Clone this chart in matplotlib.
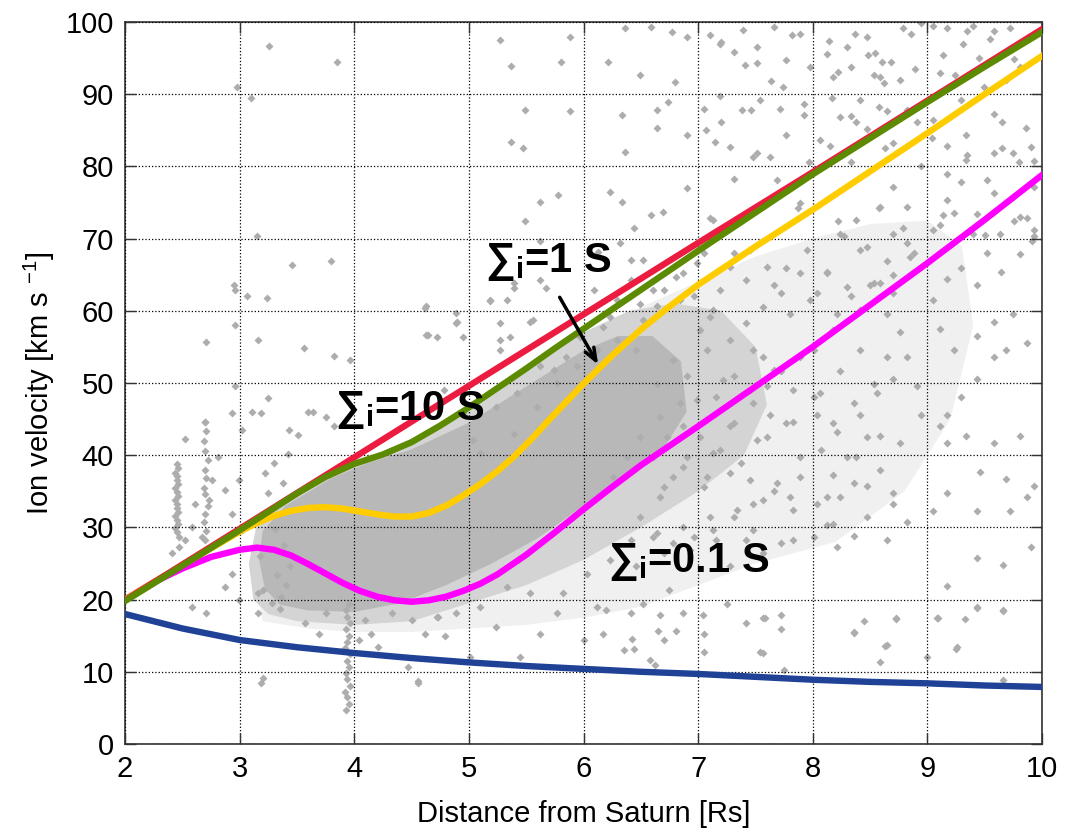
import matplotlib
matplotlib.use('Agg')
import matplotlib.pyplot as plt

plt.rcParams['font.family'] = ['Liberation Sans', 'DejaVu Sans']
plt.rcParams['mathtext.fontset'] = 'custom'
plt.rcParams['mathtext.rm'] = 'Liberation Sans'
plt.rcParams['mathtext.bf'] = 'Liberation Sans:bold'
plt.rcParams['mathtext.it'] = 'Liberation Sans:italic'

# model curves (distance in Rs, velocity in km/s)
r_red = [2, 3, 4, 5, 6, 7, 8, 9, 10]
v_red = [19.9, 29.8, 39.7, 49.6, 59.5, 69.4, 79.2, 89.1, 99.0]

r_green = [2, 2.5, 3, 3.5, 3.75, 4, 4.25, 4.5, 4.75, 5, 5.25, 5.5, 5.75, 6,
           6.5, 7, 7.5, 8, 8.5, 9, 9.5, 10]
v_green = [19.8, 24.7, 29.6, 34.7, 37.0, 38.8, 40.1, 41.8, 44.1, 46.6, 49.3,
           52.0, 54.8, 57.5, 62.9, 68.3, 73.6, 78.9, 83.9, 88.9, 93.8, 98.6]

r_yellow = [2, 2.5, 3, 3.15, 3.3, 3.45, 3.6, 3.75, 3.9, 4.05, 4.2, 4.35, 4.5,
            4.65, 4.8, 4.95, 5.1, 5.25, 5.4, 5.55, 5.7, 5.85, 6, 6.25, 6.5,
            6.75, 7, 7.5, 8, 8.5, 9, 9.5, 10]
v_yellow = [20.0, 24.8, 29.4, 30.6, 31.6, 32.3, 32.7, 32.8, 32.6, 32.2, 31.8,
            31.5, 31.5, 32.0, 33.0, 34.4, 36.0, 37.8, 39.9, 42.3, 44.9, 47.4,
            49.9, 53.8, 57.4, 60.6, 63.6, 68.9, 74.0, 79.3, 84.6, 90.0, 95.3]

r_magenta = [2, 2.25, 2.5, 2.75, 3, 3.15, 3.3, 3.45, 3.6, 3.75, 3.9, 4.05,
             4.2, 4.35, 4.5, 4.65, 4.8, 4.95, 5.1, 5.25, 5.5, 5.75, 6, 6.25,
             6.5, 7, 7.5, 8, 8.5, 9, 9.5, 10]
v_magenta = [20.0, 22.4, 24.3, 25.9, 26.9, 27.2, 26.9, 26.1, 24.9, 23.6, 22.3,
             21.2, 20.4, 19.9, 19.7, 19.9, 20.4, 21.2, 22.2, 23.5, 26.2, 29.3,
             32.5, 35.6, 38.6, 44.0, 49.5, 55.0, 60.8, 66.6, 72.6, 78.8]

r_blue = [2, 2.5, 3, 3.5, 4, 4.5, 5, 5.5, 6, 6.5, 7, 7.5, 8, 8.5, 9, 9.5, 10]
v_blue = [18.0, 16.0, 14.4, 13.4, 12.6, 11.9, 11.3, 10.8, 10.4, 10.0, 9.7,
          9.3, 8.9, 8.6, 8.4, 8.1, 7.9]

# outlines of the measured cloud: sparse halo, medium band, dense core
halo_r = [3.1, 3.3, 3.6, 4.0, 4.5, 5.0, 5.5, 6.0, 6.5, 7.0, 7.5, 8.0, 8.5,
          9.0, 9.3, 9.4, 9.2, 8.8, 8.2, 7.5, 7.0, 6.5, 6.0, 5.5, 5.0, 4.5,
          4.0, 3.6, 3.2]
halo_v = [26.0, 33.0, 35.5, 38.5, 41.0, 45.0, 50.5, 56.0, 60.5, 64.0, 67.5,
          70.0, 72.0, 72.5, 69.0, 58.0, 45.0, 35.0, 28.0, 25.0, 22.0, 19.0,
          17.5, 16.5, 16.0, 15.5, 15.5, 16.0, 17.0]

mid_r = [3.12, 3.08, 3.15, 3.4, 3.8, 4.1, 4.5, 5.0, 5.5, 6.0, 6.4, 6.8, 7.2,
         7.5, 7.6, 7.4, 7.0, 6.5, 6.0, 5.5, 5.0, 4.5, 4.0, 3.5, 3.25]
mid_v = [20.0, 25.0, 30.5, 34.0, 37.5, 39.5, 42.0, 46.0, 51.5, 57.0, 60.0,
         61.0, 60.0, 55.0, 47.0, 40.0, 35.0, 30.0, 25.5, 22.0, 19.5, 17.0,
         16.5, 17.0, 18.0]

core_r = [3.22, 3.17, 3.2, 3.4, 3.8, 4.1, 4.5, 5.0, 5.5, 6.0, 6.3, 6.6, 6.85,
          6.9, 6.7, 6.4, 6.0, 5.6, 5.2, 4.8, 4.4, 4.0, 3.6, 3.35]
core_v = [21.5, 25.5, 29.5, 33.0, 36.8, 38.8, 40.8, 44.5, 49.5, 54.5, 56.5,
          56.5, 53.0, 46.0, 41.0, 37.5, 33.0, 28.5, 25.0, 22.0, 19.5, 18.3,
          18.5, 19.3]

# individual measurements outside the dense core
obs_r = [
    2.45, 2.44, 2.46, 2.45, 2.44, 2.46, 2.45, 2.45, 2.44, 2.46, 2.45, 2.44,
    2.46, 2.45, 2.45, 2.44, 2.46, 2.45,
    2.70, 2.71, 2.69, 2.70, 2.72, 2.70, 2.69, 2.71, 2.70, 2.72, 2.70, 2.69,
    2.71, 2.70,
    3.93, 3.95, 3.94, 3.92, 3.96, 3.94, 3.93, 3.95, 3.94, 3.96, 3.92, 3.94,
    3.95, 3.93, 3.96, 3.94, 3.93, 3.95,
    3.26, 3.85, 2.98, 3.10, 3.15, 3.46, 3.80, 2.95, 2.96, 3.06, 3.24, 2.71,
    2.96, 3.16, 4.64, 4.90, 4.63, 3.82, 3.96, 3.56, 3.64, 3.82, 4.62, 4.63,
    5.18, 5.27, 5.36, 5.56, 6.09, 4.89, 4.95, 5.27, 5.39, 6.32, 6.41,
    5.27, 5.88, 6.36, 6.59, 6.77, 6.90, 7.20, 7.66, 7.51, 7.82, 8.12, 8.48,
    8.79, 8.94, 9.35, 9.55, 5.37, 5.80, 6.21, 6.49, 6.80, 7.41, 7.77, 8.22,
    8.53, 8.68, 8.89, 9.14, 9.24, 9.76, 5.49, 5.88, 6.34, 6.64, 6.74, 7.05,
    7.20, 7.46, 7.71, 7.92, 8.17, 8.38, 8.58, 9.65, 9.86, 5.37, 5.47, 6.36,
    6.64, 6.90, 7.15, 7.51, 7.77, 7.97, 8.33, 8.63, 9.04, 9.35, 9.65, 9.80,
    5.62, 5.78, 6.23, 6.34, 6.59, 6.90, 7.10, 7.31, 7.87, 8.22, 8.58, 8.79,
    9.14, 9.50, 9.76, 9.91, 5.49, 5.62, 6.44, 6.69, 5.67, 5.39, 6.13,
    7.10, 7.39, 7.19, 7.31, 7.51, 7.64, 7.89, 8.14, 8.30, 8.37, 8.47, 8.54,
    8.60, 8.86, 9.05, 9.17, 9.31, 9.40, 9.45, 9.58, 9.72, 9.11, 8.76, 8.59,
    8.33, 8.18, 7.98, 7.74, 7.54, 7.38, 7.19, 7.07, 7.28, 7.48, 7.69, 7.89,
    8.06, 8.24, 8.41, 8.62, 8.82, 9.05, 9.29, 9.49, 9.69, 9.81, 9.90, 9.93,
    9.75, 9.58, 9.34, 9.52, 9.17, 8.94, 8.70, 8.82, 8.59, 8.38, 8.24, 8.47,
    8.70, 8.88, 9.05, 9.23, 9.40, 9.52, 9.63, 9.81, 9.93, 8.12, 8.30, 8.53,
    8.70, 8.04, 7.89, 7.72, 7.60, 7.42, 7.19, 7.31, 7.13,
    7.92, 8.15, 8.33, 8.47, 8.65, 8.70, 8.91, 9.17, 9.34, 9.58, 9.75, 9.93,
    7.63, 9.29, 9.17, 9.58, 9.87, 9.43, 9.11, 8.82, 8.65, 8.41, 8.27, 8.12,
    7.95, 7.77, 7.66, 7.57, 7.80, 7.98, 8.21, 8.33, 8.50, 8.70, 8.85, 8.65,
    8.76, 8.41, 8.24, 8.06, 7.89, 7.72, 7.60, 7.63, 7.83, 8.04, 8.21, 8.41,
    8.56, 8.70, 8.82, 8.91, 8.94, 8.76, 8.59, 8.38, 8.18, 7.89, 7.69, 7.80,
    8.04, 8.24, 8.47, 8.70, 9.11, 9.17, 9.29, 9.43, 9.58, 9.69, 9.87, 9.75,
    9.58, 9.43, 9.23, 9.11, 9.05, 9.17, 9.29, 9.43, 9.64, 9.81, 9.93, 9.17,
    9.34, 9.58, 9.81, 9.93, 9.69, 9.46, 9.17, 9.05, 9.43, 9.72, 9.87, 8.82,
    8.12, 7.83, 8.21, 8.36, 8.65, 9.17, 9.43, 9.66, 9.90, 7.72, 8.36, 8.73,
    9.08, 9.43, 9.66, 9.26, 8.65, 7.57,
    4.89, 5.18, 5.33, 5.53, 5.62, 4.72, 5.27, 4.78, 6.29, 6.41, 6.52, 6.70,
    6.87, 7.05, 7.28, 7.45, 7.10, 7.28, 7.42, 7.57, 7.22, 7.45, 6.99, 6.87,
    7.28, 7.51, 7.13, 6.87, 6.70, 7.05, 7.28, 7.45, 7.57, 7.34, 7.10, 6.87,
    6.64, 6.41, 6.23, 6.03, 5.82, 6.46, 6.70, 6.93, 7.16, 7.42, 7.57, 7.28,
    6.75, 6.41, 6.12, 5.77, 5.53, 5.33, 5.10, 4.89, 4.72, 5.24, 5.62, 6.00,
    6.35, 6.70, 7.05, 7.42, 6.58, 7.57, 5.45, 5.01,
    5.39, 5.59, 5.77, 5.94, 6.12, 6.29, 6.17, 6.52, 6.64, 6.84, 6.46, 5.10,
    4.95, 5.24, 5.42, 5.62, 5.04,
    2.52, 2.70, 2.96, 2.93, 3.11, 3.19, 3.25, 3.60, 3.43, 3.51, 3.75, 3.02,
    2.81, 2.76, 2.73, 2.58, 2.61, 2.67, 2.87, 2.93, 3.02, 2.99, 2.52, 2.41,
    2.47, 2.93, 2.87, 2.99, 3.16, 3.16, 3.19, 3.57, 3.75, 3.69, 4.09, 4.15,
    4.04, 4.21, 4.33, 4.50, 4.62, 4.56, 4.73, 4.79, 4.47, 2.58, 2.71, 2.47,
    6.20, 6.52, 6.67, 6.87, 6.17, 6.42, 6.44, 6.65, 6.81, 6.62, 7.04, 7.05,
    7.25, 7.54, 7.58, 7.72, 7.75, 8.36, 8.45, 8.63, 8.59, 8.73, 9.00, 9.09,
    9.25, 9.33, 9.43, 9.66, 9.66, 3.20, 4.56,
    7.08, 7.31, 7.16, 7.48, 7.66, 7.83, 8.01, 8.18, 8.41, 8.59, 7.02, 6.90,
    6.78, 6.67, 6.49, 7.31, 7.48, 7.19, 7.08, 7.37, 7.60, 7.77, 8.01, 8.18,
    8.36, 8.53, 8.65, 8.47, 8.30, 8.07, 7.89, 7.66, 7.48, 7.31, 7.13, 6.96,
    6.78, 6.61, 7.83, 8.12, 8.36, 8.59, 8.70, 8.47, 8.18, 8.01, 7.72, 7.48,
    6.49, 6.38, 6.26, 6.61, 6.67, 6.84, 6.90, 6.78, 7.02, 7.13, 6.96, 6.64,
    6.73, 5.97, 5.85, 5.74, 6.23, 6.49, 6.61, 6.81, 6.99,
    3.22, 3.30, 3.38, 3.42, 3.28, 3.35, 3.20, 3.33, 3.40, 3.25, 3.18, 3.36,
    3.44, 3.31, 3.23, 3.39,
]
obs_v = [
    29.3, 29.9, 30.5, 31.0, 31.6, 32.1, 32.7, 33.2, 33.8, 34.3, 34.9, 35.4,
    36.0, 36.5, 37.1, 37.6, 38.2, 38.8,
    28.3, 29.5, 30.8, 31.9, 33.0, 34.6, 35.5, 36.8, 37.9, 39.4, 40.6, 42.0,
    43.3, 44.6,
    4.7, 5.6, 6.5, 7.2, 8.1, 9.0, 9.8, 10.7, 11.5, 12.4, 13.3, 14.1,
    15.0, 15.9, 16.8, 17.6, 18.5, 19.4,
    96.7, 94.5, 91.0, 89.4, 70.4, 66.3, 66.9, 63.6, 62.9, 62.0, 61.8, 55.7,
    58.0, 55.9, 56.7, 58.4, 60.6, 53.7, 53.2, 54.8, 46.0, 44.0, 60.4, 56.7,
    61.3, 58.3, 56.4, 58.7, 62.9, 59.7, 56.4, 54.6, 63.1, 69.4, 67.0,
    97.5, 97.9, 99.1, 99.3, 98.6, 97.9, 97.2, 99.3, 96.5, 98.2, 95.6, 95.4,
    99.1, 99.8, 98.8, 97.7, 93.9, 94.5, 94.4, 92.6, 91.7, 94.0, 94.7, 93.1,
    92.6, 94.5, 93.5, 95.4, 92.6, 94.9, 87.8, 87.6, 87.1, 87.8, 88.9, 88.0,
    86.2, 87.8, 88.0, 87.1, 89.4, 86.2, 88.2, 86.2, 85.3, 83.4, 82.6, 82.0,
    85.3, 84.3, 83.4, 81.8, 84.3, 80.6, 80.6, 82.5, 83.9, 81.6, 82.5, 80.6,
    75.1, 76.0, 76.5, 75.1, 73.3, 77.0, 72.8, 78.3, 74.2, 72.4, 74.2, 71.4,
    73.3, 70.5, 72.4, 69.6, 72.4, 69.6, 71.4, 73.7, 63.1, 63.8, 68.2,
    98.2, 98.9, 97.0, 95.9, 94.3, 91.8, 98.4, 97.3, 96.6, 98.4, 97.9, 95.7,
    94.5, 98.4, 99.4, 99.1, 97.0, 99.4, 95.0, 98.7, 99.1, 92.9, 92.0, 92.4,
    93.8, 92.4, 93.8, 91.0, 89.2, 87.8, 89.7, 85.0, 82.7, 81.3, 78.1, 74.9,
    83.7, 86.9, 89.2, 91.5, 87.8, 86.4, 89.2, 91.0, 92.0, 93.8, 82.7, 77.2,
    75.8, 81.8, 80.9, 78.1, 79.0, 80.0, 77.2, 74.4, 74.4, 72.6, 70.7, 68.9,
    70.7, 68.0, 71.2, 73.5, 70.7, 68.0, 70.7, 73.0, 71.2, 65.2, 63.3, 63.8,
    62.4, 62.4, 65.2, 62.4, 66.1, 64.3, 62.9, 68.0, 72.6,
    88.7, 82.8, 87.0, 85.2, 87.7, 83.3, 86.2, 82.8, 84.3, 87.2, 81.8, 80.8,
    81.3, 77.8, 75.3, 76.3, 72.9, 73.4, 71.9, 69.4, 66.9, 68.4, 70.4, 65.4,
    68.4, 65.9, 63.5, 60.5, 59.5, 61.5, 59.5, 62.0, 63.5, 65.0, 67.4, 59.5,
    57.0, 54.5, 51.6, 48.6, 53.6, 51.6, 49.6, 45.6, 44.6, 45.6, 43.2, 45.6,
    48.6, 50.6, 53.6, 49.6, 45.6, 41.7, 42.7, 39.7, 37.2, 39.7, 36.2, 34.2,
    33.3, 34.2, 35.7, 34.7, 44.1, 45.6, 48.1, 50.6, 53.6, 54.5, 55.5, 59.5,
    58.5, 56.5, 54.5, 57.5, 61.5, 64.4, 65.9, 63.5, 65.4, 67.9, 70.4, 41.7,
    42.7, 41.7, 42.7, 35.7, 36.7, 37.7, 34.7, 32.3, 32.3, 32.3, 34.2, 30.8,
    30.3, 28.3, 27.3, 28.8, 28.3, 21.9, 25.8, 24.8, 27.3, 17.9, 15.4, 17.4,
    17.4, 18.9, 18.4, 13.5, 13.7, 17.4,
    58.3, 61.5, 61.5, 58.5, 64.3, 56.4, 56.0, 49.0, 61.5, 64.3, 67.0, 62.9,
    65.2, 68.0, 66.1, 68.4, 59.2, 56.0, 58.3, 53.6, 50.4, 49.0, 47.6, 44.0,
    44.0, 42.1, 40.3, 38.4, 35.6, 35.6, 37.5, 36.6, 33.8, 32.4, 31.5, 30.1,
    29.2, 28.2, 25.5, 23.6, 20.9, 24.6, 26.4, 26.9, 28.2, 28.2, 26.4, 24.6,
    21.3, 18.1, 19.0, 18.1, 20.9, 21.8, 19.0, 18.1, 17.6, 16.2, 15.3, 14.4,
    13.0, 14.4, 15.3, 16.7, 11.6, 12.6, 12.1, 12.1,
    43.0, 46.7, 50.0, 52.3, 54.6, 56.0, 57.8, 58.7, 60.6, 61.5, 54.6, 40.3,
    45.8, 46.7, 48.6, 52.3, 42.1,
    42.3, 44.6, 49.6, 45.8, 46.0, 45.8, 47.9, 46.0, 43.5, 42.8, 45.3, 43.5,
    39.8, 36.5, 33.8, 30.1, 33.3, 28.7, 35.2, 31.9, 29.6, 36.5, 28.2, 26.4,
    27.3, 23.6, 21.8, 19.9, 20.9, 18.1, 8.5, 16.7, 18.1, 15.3, 17.2, 15.3,
    14.4, 13.5, 18.1, 17.2, 15.3, 8.5, 17.6, 14.9, 10.7, 19.0, 18.1, 28.7,
    18.5, 19.4, 17.9, 18.2, 15.3, 14.5, 13.1, 15.7, 15.6, 10.9, 17.8, 12.7,
    19.4, 12.7, 17.4, 15.9, 10.2, 15.5, 17.0, 13.6, 11.3, 17.3, 12.1, 17.4,
    13.2, 17.3, 19.0, 18.6, 8.8, 9.1, 8.7,
    54.5, 50.9, 48.1, 54.5, 51.8, 49.0, 54.5, 57.3, 60.1, 63.8, 42.5, 39.8,
    37.0, 34.2, 31.5, 44.4, 47.2, 40.7, 37.0, 38.9, 42.5, 44.4, 48.1, 44.4,
    47.2, 49.9, 53.6, 42.5, 39.8, 40.7, 37.0, 35.1, 33.3, 31.5, 29.6, 28.7,
    27.8, 28.7, 32.4, 34.2, 36.1, 37.9, 33.3, 31.5, 30.5, 28.7, 27.8, 29.6,
    42.5, 39.8, 37.0, 39.8, 45.3, 47.2, 50.9, 53.2, 57.3, 60.1, 62.0, 49.9,
    42.5, 56.4, 53.6, 51.8, 59.2, 61.0, 62.9, 64.7, 66.6,
    37.5, 38.9, 36.2, 40.1, 19.5, 18.7, 21.3, 23.4, 22.0, 34.8, 26.1, 20.4,
    24.6, 29.8, 31.7, 27.5,
]

fig = plt.figure(figsize=(10.77, 8.35), dpi=100)
ax = fig.add_axes([0.1161, 0.109, 0.8514, 0.8647])

ax.fill(halo_r, halo_v, color='#f0f0f0', lw=0, zorder=1)
ax.fill(mid_r, mid_v, color='#d4d4d4', lw=0, zorder=1.1)
ax.fill(core_r, core_v, color='#b8b8b8', lw=0, zorder=1.2)
ax.plot(obs_r, obs_v, ls='none', marker='D', ms=3.6, color='#adadad',
        mec='none', zorder=1.5)

lw = 4.6
ax.plot(r_blue, v_blue, color='#1f4196', lw=lw, zorder=3)
ax.plot(r_magenta, v_magenta, color='#ff00ff', lw=lw, zorder=3.1)
ax.plot(r_yellow, v_yellow, color='#ffcc00', lw=lw, zorder=3.2)
ax.plot(r_red, v_red, color='#ec1c40', lw=lw, zorder=3.3)
ax.plot(r_green, v_green, color='#5c8a00', lw=lw, zorder=3.4)

lab_kw = dict(fontsize=30, fontweight='bold', va='baseline', ha='left',
              zorder=5)
ax.text(3.83, 44.9, r'∑$_\mathbf{i}$=10 S', **lab_kw)
ax.text(5.14, 65.4, r'∑$_\mathbf{i}$=1 S', **lab_kw)
ax.text(6.21, 23.8, r'∑$_\mathbf{i}$=0.1 S', **lab_kw)
ax.annotate('', xy=(6.14, 52.2), xytext=(5.78, 62.2), zorder=5,
            arrowprops=dict(arrowstyle='->,head_length=0.9,head_width=0.35',
                            lw=2.5, color='k'))

ax.set_xlim(2, 10)
ax.set_ylim(0, 100)
ax.set_xticks(range(2, 11))
ax.set_yticks(range(0, 101, 10))
ax.set_axisbelow(False)
ax.grid(True, ls=':', color='k', lw=0.9)
ax.tick_params(direction='in', length=8, width=1, top=True, right=True,
               labelsize=21, pad=8, colors='#333333', labelcolor='k')
for sp in ax.spines.values():
    sp.set_color('#333333')
    sp.set_linewidth(1.2)

ax.set_xlabel('Distance from Saturn [Rs]', fontsize=21, labelpad=12)
ax.set_ylabel(r'Ion velocity [km s $^{\mathregular{-1}}$]', fontsize=21,
              labelpad=6)

fig.savefig('out.png', dpi=100)
